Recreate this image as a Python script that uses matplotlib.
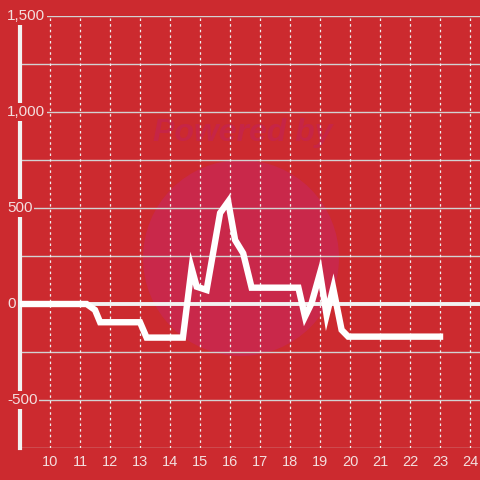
import matplotlib
matplotlib.use('Agg')
import matplotlib.pyplot as plt
from matplotlib.patches import Circle

# series values
hours = [9.0, 11.22, 11.5, 11.67, 13.0, 13.22, 14.43, 14.72, 14.89, 15.22,
         15.67, 15.94, 16.17, 16.44, 16.72, 18.28, 18.5, 18.72, 19.0, 19.22,
         19.44, 19.72, 19.94, 23.0]
values = [0, 0, -31, -95, -95, -175, -175, 187, 90, 73,
          474, 533, 333, 264, 85, 85, -66, 5, 161, -57,
          83, -135, -170, -170]

x_ticks = list(range(10, 25))
y_ticks = [-500, 0, 500, 1000, 1500]
y_grid = [-750, -500, -250, 0, 250, 500, 750, 1000, 1250, 1500]

bg = '#cc2a2f'
plt.rcParams['font.family'] = ['Liberation Sans', 'DejaVu Sans']

fig = plt.figure(figsize=(4.8, 4.8), dpi=100)
fig.patch.set_facecolor(bg)
ax = fig.add_axes([20 / 480, 32 / 480, 460 / 480, 432 / 480])
ax.set_facecolor(bg)
ax.set_xlim(9, 9 + 460 / 30)
ax.set_ylim(-750, 1500)

# watermark (pixel coords, origin bottom-left)
ax.add_patch(Circle((241, 480 - 258), 98, transform=None, facecolor='#c9284a',
                    edgecolor='none', zorder=0))
ax.text(243 / 480, 1 - 133 / 480, 'Powered by', transform=fig.transFigure,
        ha='center', va='center', fontsize=23, fontweight='bold',
        fontstyle='italic', color='#c62546', zorder=0.5)

# grid
for g in y_grid:
    if g != 0:
        ax.axhline(g, color='#d2d2d2', lw=1, zorder=1)
for t in x_ticks:
    ax.axvline(t, color='#f0f0f0', lw=0.9, ls=(0, (2, 2.5)), zorder=1)
ax.axhline(0, color='#f2f2f2', lw=2.8, zorder=2)

ax.plot(hours, values, color='white', lw=4.6, solid_joinstyle='miter', zorder=3)

for s in ['top', 'right', 'bottom']:
    ax.spines[s].set_visible(False)
ax.spines['left'].set_color('#f2f2f2')
ax.spines['left'].set_linewidth(3)
ax.spines['left'].set_bounds(-750, 1460)
ax.spines['left'].set_zorder(2)

ax.set_yticks([])
ax.set_xticks(x_ticks)
ax.set_xticklabels([str(t) for t in x_ticks], color='#f3dede', fontsize=10.5)
ax.tick_params(axis='x', length=0, pad=5)

for v in y_ticks:
    lbl = f'{v:,}'
    ax.text(-13 / 460, v, lbl, transform=ax.get_yaxis_transform(),
            ha='left', va='center', fontsize=11, color='#f3dede', zorder=4,
            bbox=dict(boxstyle='square,pad=0.1', fc=bg, ec='none'))

fig.savefig('out.png', dpi=100, facecolor=bg)
